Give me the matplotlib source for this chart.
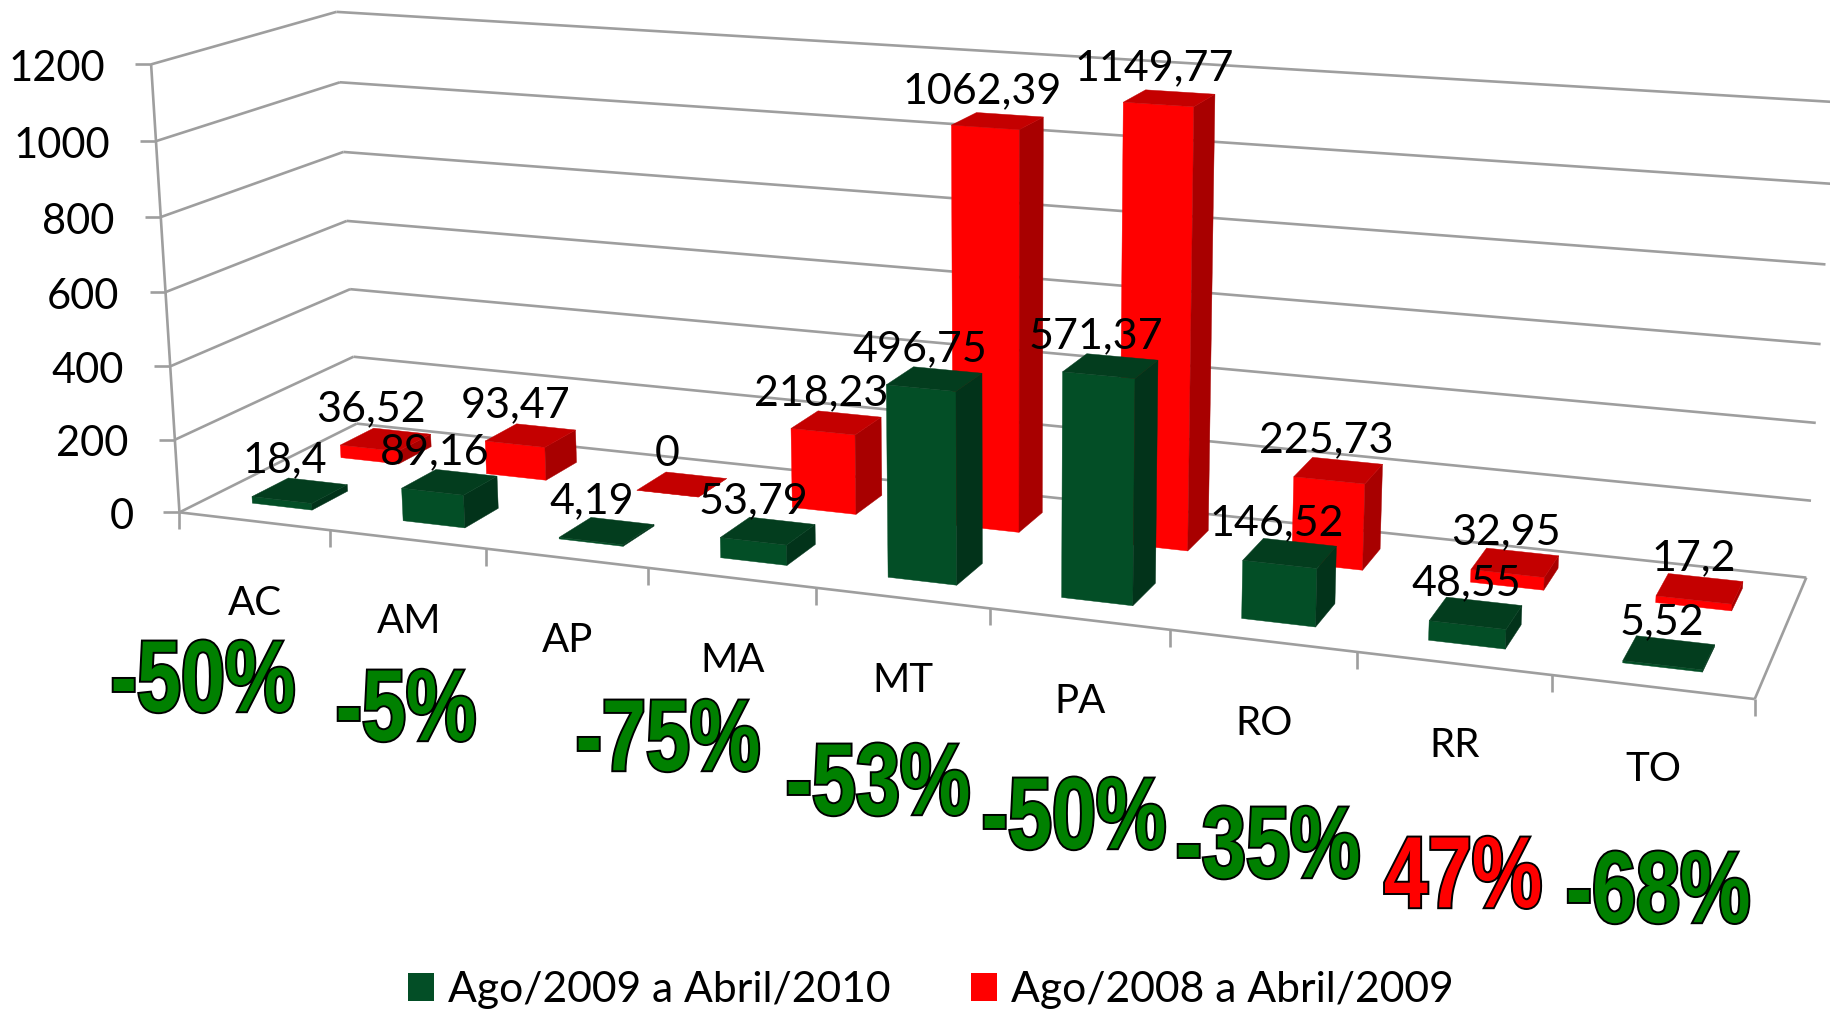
import numpy as np
import matplotlib
matplotlib.use("Agg")
import matplotlib.pyplot as plt
from matplotlib.patches import Polygon, Patch
import matplotlib.patheffects as pe
from matplotlib.transforms import Affine2D

categories = ["AC", "AM", "AP", "MA", "MT", "PA", "RO", "RR", "TO"]
series_2010 = [18.4, 89.16, 4.19, 53.79, 496.75, 571.37, 146.52, 48.55, 5.52]
series_2009 = [36.52, 93.47, 0, 218.23, 1062.39, 1149.77, 225.73, 32.95, 17.2]
labels_2010 = ["18,4", "89,16", "4,19", "53,79", "496,75", "571,37", "146,52", "48,55", "5,52"]
labels_2009 = ["36,52", "93,47", "0", "218,23", "1062,39", "1149,77", "225,73", "32,95", "17,2"]
name_2010 = "Ago/2009 a Abril/2010"
name_2009 = "Ago/2008 a Abril/2009"
y_ticks = [0, 200, 400, 600, 800, 1000, 1200]
change_labels = ["-50%", "-5%", "-75%", "-53%", "-50%", "-35%", "47%", "-68%"]
change_colors = ["#008000"] * 6 + ["#FF0000", "#008000"]
change_x = [203, 406, 668, 878, 1074, 1268, 1463, 1658]
change_y = [685, 714, 744, 788, 822, 851, 881, 896]

W, H = 1831, 1011
n = len(categories)
VMAX = 1200.0

# camera calibration: (category pos, depth, value) -> pixel
front_x = [179.5, 330, 486, 648, 817, 989, 1172, 1357, 1552, 1754.5]
calib = [(k, 0, 0, x, 512 + (x - 179.5) * (699 - 512) / (1754.5 - 179.5)) for k, x in enumerate(front_x)]
for v, x, y in zip(y_ticks, [179.5, 174, 170, 166, 161, 156, 151], [512, 440, 367, 293, 217.5, 141, 64.5]):
    calib.append((0, 0, v, x, y))
for v, x, y in zip(y_ticks, [357, 353.6, 349.6, 347, 344, 340, 336], [423, 357, 289, 221, 152, 82, 12]):
    calib.append((0, 1, v, x, y))
for v, x, y in zip(y_ticks, [1805.6, 1811, 1816, 1821, 1826, 1830, 1835], [578, 502, 424, 343, 264, 184, 101]):
    calib.append((n, 1, v, x, y))
A, b = [], []
for u, d, v, x, y in calib:
    U, V = u / n, v / VMAX
    A.append([U, d, V, 1, 0, 0, 0, 0, -x * U, -x * d, -x * V]); b.append(x)
    A.append([0, 0, 0, 0, U, d, V, 1, -y * U, -y * d, -y * V]); b.append(y)
P = np.linalg.lstsq(np.array(A), np.array(b), rcond=None)[0]
P = np.append(P, 1).reshape(3, 4)


def proj(u, d, v):
    p = P @ np.array([u / n, d, v / VMAX, 1.0])
    return p[0] / p[2], p[1] / p[2]


plt.rcParams["font.family"] = ["Lato", "DejaVu Sans"]
fig = plt.figure(figsize=(W / 100, H / 100), dpi=100)
ax = fig.add_axes([0, 0, 1, 1])
ax.set_xlim(0, W)
ax.set_ylim(H, 0)
ax.axis("off")

GRID = "#9E9E9E"
lw = 1.9


def seg(a, b, z=1):
    ax.plot([a[0], b[0]], [a[1], b[1]], color=GRID, lw=lw, zorder=z, solid_capstyle="butt", clip_on=True)


for v in y_ticks:
    seg(proj(0, 0, v), proj(0, 1, v))
    seg(proj(0, 1, v), proj(n, 1, v))
    a = proj(0, 0, v)
    seg((a[0] - 16, a[1]), a)
    ax.text(a[0] - 46, a[1] + 4.5, str(v), ha="right", va="center", fontsize=30, color="black", zorder=8)
seg(proj(0, 0, 0), proj(0, 0, VMAX))
seg(proj(0, 0, 0), proj(n, 0, 0))
seg(proj(n, 0, 0), proj(n, 1, 0))
for k in range(n + 1):
    a = proj(k, 0, 0)
    seg(a, (a[0], a[1] + 17))

for i, c in enumerate(categories):
    a = proj(i + 0.5, 0, 0)
    ax.text(a[0] + 1, a[1] + 82.5, c, ha="center", va="center", fontsize=29, color="black", zorder=8)

U0, U1 = 0.30, 0.70


def bar(i, d0, d1, v, cols, z):
    f, s, t = cols
    x0, x1 = i + U0, i + U1
    ax.add_patch(Polygon([proj(x0, d0, 0), proj(x1, d0, 0), proj(x1, d0, v), proj(x0, d0, v)], fc=f, ec=f, lw=0.3, zorder=z))
    ax.add_patch(Polygon([proj(x1, d0, 0), proj(x1, d1, 0), proj(x1, d1, v), proj(x1, d0, v)], fc=s, ec=s, lw=0.3, zorder=z))
    ax.add_patch(Polygon([proj(x0, d0, v), proj(x1, d0, v), proj(x1, d1, v), proj(x0, d1, v)], fc=t, ec=t, lw=0.3, zorder=z))


RED = ("#FF0000", "#A80000", "#C40000")
GREEN = ("#034E26", "#02331A", "#033D1E")
for i in range(n):
    bar(i, 0.65, 0.85, series_2009[i], RED, 3)
for i in range(n):
    bar(i, 0.15, 0.35, series_2010[i], GREEN, 4)


def value_label(i, d, v, txt):
    x, y = proj(i + 0.5, d, v)
    dx = -15 + max(0.0, x - 1150) * 0.016
    ax.text(x + dx, y - 30, txt, ha="center", va="center", fontsize=31, color="black", zorder=9)


for i in range(n):
    value_label(i, 0.75, series_2009[i], labels_2009[i])
    value_label(i, 0.25, series_2010[i], labels_2010[i])


class Tall(pe.AbstractPathEffect):
    """Stretch the glyph outlines of a text vertically, with a black contour."""

    def __init__(self, text, sy, stroke):
        super().__init__()
        self.text, self.sy, self.stroke = text, sy, stroke

    def draw_path(self, renderer, gc, tpath, affine, rgbFace=None):
        cx, cy = self.text.get_transform().transform(self.text.get_position())
        aff = affine + Affine2D().translate(-cx, -cy).scale(1, self.sy).translate(cx, cy)
        g = renderer.new_gc()
        g.copy_properties(gc)
        g.set_foreground("black")
        g.set_linewidth(self.stroke)
        g.set_joinstyle("miter")
        renderer.draw_path(g, tpath, aff, rgbFace)
        g.restore()
        renderer.draw_path(gc, tpath, aff, rgbFace)


for t, c, x, y in zip(change_labels, change_colors, change_x, change_y):
    tx = ax.text(x, y, t, ha="center", va="center", family="Liberation Sans", fontweight="bold",
                 fontsize=57, color=c, zorder=10)
    tx.set_path_effects([Tall(tx, 1.28, 2.8)])

ax.legend(handles=[Patch(fc=GREEN[0], label=name_2010), Patch(fc=RED[0], label=name_2009)],
          loc="center", bbox_to_anchor=(931 / W, 1 - 990 / H), ncol=2, frameon=False, fontsize=30.7,
          handlelength=0.6, handleheight=0.6, handletextpad=0.33, columnspacing=1.9, borderpad=0, labelcolor="black")

fig.savefig("out.png", dpi=100)
